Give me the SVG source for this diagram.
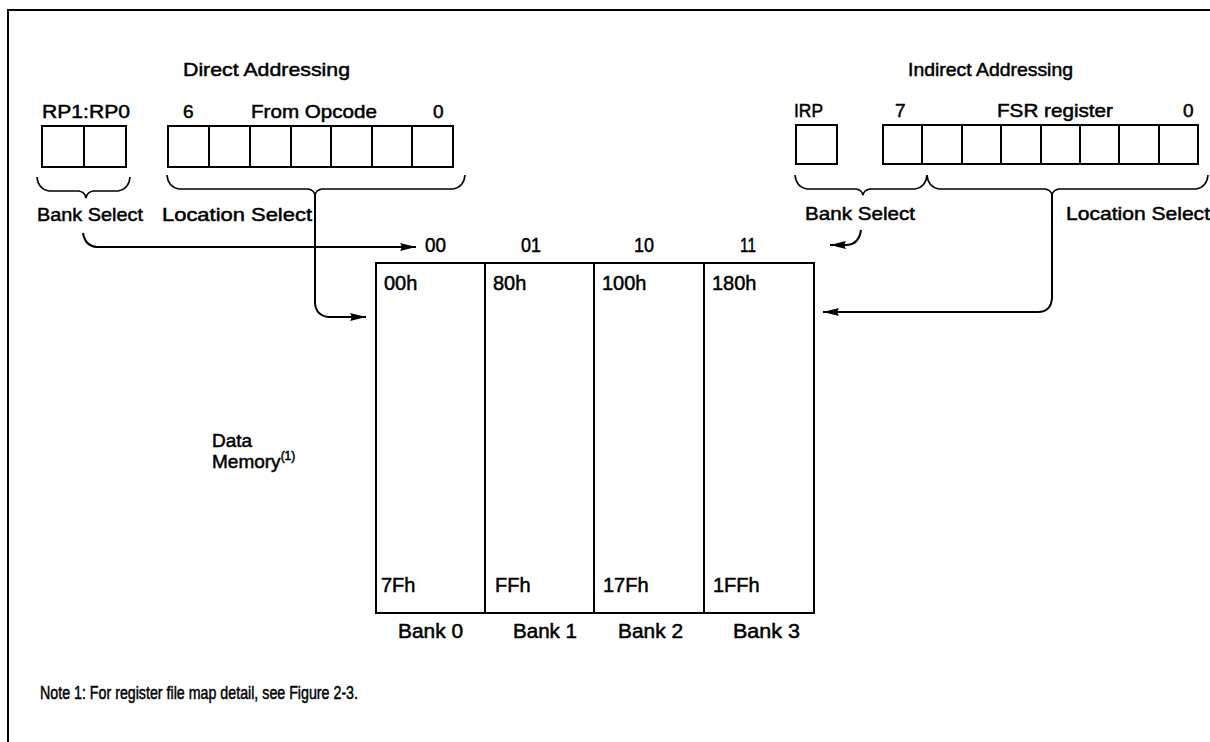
<svg xmlns="http://www.w3.org/2000/svg" width="1210" height="742" viewBox="0 0 1210 742">
<style>
text{font-family:"Liberation Sans",Arial,sans-serif;font-size:19px;fill:#000;stroke:#000;stroke-width:0.5}
.box{fill:none;stroke:#000;stroke-width:2}
.ln{fill:none;stroke:#000;stroke-width:2}
.br{fill:none;stroke:#000;stroke-width:1.6}
.lab{font-size:20px}
</style>
<defs>
<marker id="ah" viewBox="0 0 16 10" refX="16" refY="5" markerWidth="16" markerHeight="10" markerUnits="userSpaceOnUse" orient="auto">
<path d="M0,1 L16,5 L0,9 Q3,5 0,1 z" fill="#000"/>
</marker>
</defs>
<rect width="1210" height="742" fill="#fff"/>
<path d="M8,742 V10 H1210" class="ln"/>

<g id="direct-addressing">
<text x="183" y="76" textLength="167" lengthAdjust="spacingAndGlyphs">Direct Addressing</text>
</g>
<g id="rp-register">
<text x="42" y="118" textLength="88" lengthAdjust="spacingAndGlyphs">RP1:RP0</text>
<rect x="42" y="126" width="84" height="41" class="box"/>
<line x1="84" y1="126" x2="84" y2="167" class="box"/>
<path class="br" d="M37,177 q1,12 12,14 H79 q6,1 7,7 q1,-6 7,-7 H118 q11,-2 12,-14"/>
<text x="37" y="221" textLength="106" lengthAdjust="spacingAndGlyphs">Bank Select</text>
</g>
<g id="opcode-register">
<text x="183" y="118">6</text>
<text x="251" y="118" textLength="126" lengthAdjust="spacingAndGlyphs">From Opcode</text>
<text x="433" y="118">0</text>
<rect x="168" y="126" width="285" height="41" class="box"/>
<path class="box" d="M209,126V167M250,126V167M291,126V167M331,126V167M372,126V167M412,126V167"/>
<path class="br" d="M167,175 q1,12 12,14 H308 q6,1 7,6 q1,-5 7,-6 H453 q11,-2 12,-14"/>
<text x="162" y="221" textLength="150" lengthAdjust="spacingAndGlyphs">Location Select</text>
</g>

<g id="indirect-addressing">
<text x="908" y="76" textLength="165" lengthAdjust="spacingAndGlyphs">Indirect Addressing</text>
</g>
<g id="irp-register">
<text x="794" y="117" textLength="29" lengthAdjust="spacingAndGlyphs">IRP</text>
<rect x="796" y="125" width="41" height="39" class="box"/>
<path class="br" d="M795,175 q1,12 12,14 H856 q6,1 7,6 q1,-5 7,-6 H915 q11,-2 12,-14"/>
<text x="805" y="220" textLength="110" lengthAdjust="spacingAndGlyphs">Bank Select</text>
</g>
<g id="fsr-register">
<text x="895" y="117">7</text>
<text x="997" y="117" textLength="116" lengthAdjust="spacingAndGlyphs">FSR register</text>
<text x="1183" y="117">0</text>
<rect x="883" y="125" width="315" height="39" class="box"/>
<path class="box" d="M922,125V164M962,125V164M1001,125V164M1041,125V164M1080,125V164M1119,125V164M1159,125V164"/>
<path class="br" d="M927,175 q1,12 12,14 H1045 q6,1 7,6 q1,-5 7,-6 H1196 q11,-2 12,-14"/>
<text x="1066" y="220" textLength="144" lengthAdjust="spacingAndGlyphs">Location Select</text>
</g>

<g id="memory-table">
<text x="425" y="252" class="lab" textLength="21" lengthAdjust="spacingAndGlyphs">00</text>
<text x="521" y="252" class="lab" textLength="20" lengthAdjust="spacingAndGlyphs">01</text>
<text x="634" y="252" class="lab" textLength="20" lengthAdjust="spacingAndGlyphs">10</text>
<text x="740" y="252" class="lab" textLength="16" lengthAdjust="spacingAndGlyphs">11</text>
<rect x="376" y="263" width="438" height="350" class="box"/>
<path class="box" d="M485,263V613M594,263V613M704,263V613"/>
<text x="384" y="290" class="lab">00h</text>
<text x="493" y="290" class="lab">80h</text>
<text x="602" y="290" class="lab">100h</text>
<text x="712" y="290" class="lab">180h</text>
<text x="381" y="592" class="lab">7Fh</text>
<text x="495" y="592" class="lab">FFh</text>
<text x="603" y="592" class="lab">17Fh</text>
<text x="713" y="592" class="lab">1FFh</text>
<text x="398" y="638" class="lab" textLength="65" lengthAdjust="spacingAndGlyphs">Bank 0</text>
<text x="513" y="638" class="lab" textLength="64" lengthAdjust="spacingAndGlyphs">Bank 1</text>
<text x="618" y="638" class="lab" textLength="65" lengthAdjust="spacingAndGlyphs">Bank 2</text>
<text x="733" y="638" class="lab" textLength="67" lengthAdjust="spacingAndGlyphs">Bank 3</text>
</g>

<g id="data-memory-label">
<text x="212" y="447" font-size="18">Data</text>
<text x="212" y="468" font-size="18">Memory<tspan font-size="12" dy="-8">(1)</tspan></text>
</g>

<g id="note">
<text x="40" y="699" textLength="318" lengthAdjust="spacingAndGlyphs" font-size="17">Note 1:  For register file map detail, see Figure 2-3.</text>
</g>

<g id="connectors">
<path class="ln" d="M83,233 q2,13 14,14 H416" marker-end="url(#ah)"/>
<path class="ln" d="M315,195 V303 q1,13 14,14 H366" marker-end="url(#ah)"/>
<path class="ln" d="M861,230 q-2,14 -14,15 H830" marker-end="url(#ah)"/>
<path class="ln" d="M1052,195 V298 q-1,14 -14,14 H823" marker-end="url(#ah)"/>
</g>
</svg>
